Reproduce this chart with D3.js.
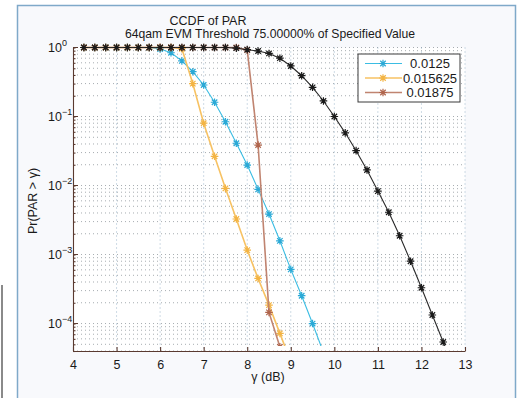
<!DOCTYPE html>
<html>
<head>
<meta charset="utf-8">
<script src="https://cdn.jsdelivr.net/npm/d3@7"></script>
<style>
  body { margin: 0; background: #fff; }
  text { font-family: "Liberation Sans", Arial, sans-serif; fill: #1a1a1a; }
</style>
</head>
<body>
<div id="chart"></div>
<script>
// data
var gammaTicks = [4, 5, 6, 7, 8, 9, 10, 11, 12, 13];
var decadeTicks = [1, 0.1, 0.01, 0.001, 0.0001];
var decadeExps = ["0", "\u22121", "\u22122", "\u22123", "\u22124"];
var legendLabels = ["0.0125", "0.015625", "0.01875"];

var xCyan = [4.25, 4.5, 4.75, 5, 5.25, 5.5, 5.75, 6, 6.25, 6.5, 6.75, 7, 7.25, 7.5, 7.75, 8, 8.25, 8.5, 8.75, 9, 9.25, 9.5, 9.75];
var yCyan = [1, 1, 1, 1, 1, 1, 1, 0.95, 0.84, 0.64, 0.446, 0.286, 0.161, 0.084, 0.041, 0.0198, 0.0088, 0.00386, 0.00158, 0.00061, 0.000253, 0.0001, 0.000038];

var xOrange = [4.25, 4.5, 4.75, 5, 5.25, 5.5, 5.75, 6, 6.25, 6.5, 6.75, 7, 7.25, 7.5, 7.75, 8, 8.25, 8.5, 8.75, 9];
var yOrange = [1, 1, 1, 1, 1, 1, 1, 1, 1, 0.96, 0.30, 0.080, 0.0265, 0.0091, 0.00327, 0.00116, 0.00045, 0.000185, 0.000072, 0.000028];

var xBrown = [4.25, 4.5, 4.75, 5, 5.25, 5.5, 5.75, 6, 6.25, 6.5, 6.75, 7, 7.25, 7.5, 7.75, 8, 8.25, 8.5, 8.75];
var yBrown = [1, 1, 1, 1, 1, 1, 1, 1, 1, 1, 1, 1, 1, 1, 1, 0.92, 0.0386, 0.000145, 0.000046];

var xBlack = [4.25, 4.5, 4.75, 5, 5.25, 5.5, 5.75, 6, 6.25, 6.5, 6.75, 7, 7.25, 7.5, 7.75, 8, 8.25, 8.5, 8.75, 9, 9.25, 9.5, 9.75, 10, 10.25, 10.5, 10.75, 11, 11.25, 11.5, 11.75, 12, 12.25, 12.5, 12.75];
var yBlack = [1, 1, 1, 1, 1, 1, 1, 1, 1, 1, 1, 1, 1, 1, 0.98, 0.93, 0.89, 0.82, 0.70, 0.54, 0.39, 0.265, 0.168, 0.10, 0.058, 0.032, 0.0168, 0.0083, 0.0041, 0.00187, 0.0008, 0.00033, 0.000133, 0.000054, 0.000022];

(function() {
  var W = 518, H = 398;
  var margin = { top: 47.5, left: 73, right: 53, bottom: 47 },
      width = W - margin.left - margin.right,
      height = H - margin.top - margin.bottom;

  var root = d3.select("#chart")
    .append("svg")
    .attr("width", W)
    .attr("height", H);

  // figure frame
  root.append("rect")
    .attr("x", 17.5).attr("y", 5.5)
    .attr("width", 498).attr("height", 400)
    .attr("fill", "#f8f9fc")
    .attr("stroke", "#7fa9c9")
    .attr("stroke-width", 1.5);

  root.append("line")
    .attr("x1", 2).attr("x2", 2)
    .attr("y1", 285).attr("y2", H)
    .attr("stroke", "#8a8a8a")
    .attr("stroke-width", 2);

  var svg = root.append("g")
    .attr("transform", "translate(" + margin.left + "," + margin.top + ")");

  var x = d3.scaleLinear().domain([4, 13]).range([0, width]);
  var y = d3.scaleLog().domain([0.00004, 1]).range([height, 0]);

  svg.append("rect")
    .attr("width", width).attr("height", height)
    .attr("fill", "#ffffff");

  // grid
  svg.selectAll(".hgrid")
    .data(y.ticks())
    .enter().append("line")
    .attr("x1", 0).attr("x2", width)
    .attr("y1", function(d) { return y(d) })
    .attr("y2", function(d) { return y(d) })
    .attr("stroke", "#8f979c")
    .attr("stroke-width", 0.8)
    .attr("stroke-dasharray", "1,3");

  svg.selectAll(".vgrid")
    .data(gammaTicks.slice(1))
    .enter().append("line")
    .attr("x1", function(d) { return x(d) })
    .attr("x2", function(d) { return x(d) })
    .attr("y1", 0).attr("y2", height)
    .attr("stroke", "#86a6bf")
    .attr("stroke-width", 0.8)
    .attr("stroke-dasharray", "1,3");

  // axes
  var xAxis = d3.axisBottom(x).tickValues(gammaTicks).tickSizeInner(-4).tickSizeOuter(0).tickPadding(9);
  var gx = svg.append("g")
    .attr("transform", "translate(0," + height + ")")
    .call(xAxis);
  gx.selectAll("text")
    .attr("font-size", "12.5px")
    .style("font-family", "Liberation Sans, Arial, sans-serif")
    .attr("fill", "#1a1a1a");

  var yAxis = d3.axisLeft(y).tickValues(y.ticks()).tickSizeInner(-2.5).tickSizeOuter(0).tickFormat("");
  var gy = svg.append("g").call(yAxis);

  svg.selectAll(".majtick")
    .data(decadeTicks)
    .enter().append("line")
    .attr("x1", 0).attr("x2", 5)
    .attr("y1", function(d) { return y(d) })
    .attr("y2", function(d) { return y(d) })
    .attr("stroke", "#5a3a30");

  [gx, gy].forEach(function(g) {
    g.selectAll("path,line").attr("stroke", "#5a3a30").attr("stroke-width", 1.1);
  });

  // decade labels 10^k
  var yl = svg.selectAll(".ylab")
    .data(decadeTicks)
    .enter().append("text")
    .attr("x", -25)
    .attr("y", function(d) { return y(d) + 4 })
    .attr("font-size", "12.5px");
  yl.append("tspan").text("10");
  yl.append("tspan")
    .attr("dy", -6)
    .attr("font-size", "9px")
    .text(function(d, i) { return decadeExps[i] });

  // series
  svg.append("clipPath").attr("id", "clip")
    .append("rect").attr("width", width).attr("height", height + 1).attr("y", -6);

  var series = [
    { xs: xCyan, ys: yCyan, color: "#3bbde3", mark: "#2aa9d6", lw: 1.1 },
    { xs: xOrange, ys: yOrange, color: "#f7c263", mark: "#f3b443", lw: 1.6 },
    { xs: xBrown, ys: yBrown, color: "#c08470", mark: "#b0654c", lw: 1.6 },
    { xs: xBlack, ys: yBlack, color: "#2a2a2a", mark: "#1a1a1a", lw: 1.1 }
  ];

  var line = d3.line()
    .x(function(d) { return x(d[0]) })
    .y(function(d) { return y(d[1]) });

  function star(r) {
    var a = r * 0.72;
    return "M0," + (-r) + "V" + r + "M" + (-r) + ",0H" + r +
      "M" + (-a) + "," + (-a) + "L" + a + "," + a +
      "M" + (-a) + "," + a + "L" + a + "," + (-a);
  }

  var plot = svg.append("g").attr("clip-path", "url(#clip)");

  series.forEach(function(s) {
    var pts = s.xs.map(function(v, i) { return [v, s.ys[i]] });
    plot.append("path")
      .datum(pts)
      .attr("d", line)
      .attr("fill", "none")
      .attr("stroke", s.color)
      .attr("stroke-width", s.lw);
    plot.selectAll(null)
      .data(pts)
      .enter().append("path")
      .attr("transform", function(d) { return "translate(" + x(d[0]) + "," + y(d[1]) + ")" })
      .attr("d", star(3.8))
      .attr("fill", "none")
      .attr("stroke", s.mark)
      .attr("stroke-width", 1.2);
  });

  // legend
  var leg = svg.append("g").attr("transform", "translate(" + (358 - margin.left) + "," + (54 - margin.top) + ")");
  leg.append("rect")
    .attr("width", 102).attr("height", 48)
    .attr("fill", "#ffffff")
    .attr("stroke", "#3a3a3a")
    .attr("stroke-width", 1);
  legendLabels.forEach(function(lab, i) {
    var s = series[i], ly = 9.5 + i * 14.5;
    leg.append("line")
      .attr("x1", 7).attr("x2", 44)
      .attr("y1", ly).attr("y2", ly)
      .attr("stroke", s.color)
      .attr("stroke-width", s.lw);
    leg.append("path")
      .attr("transform", "translate(25," + ly + ")")
      .attr("d", star(3.8))
      .attr("fill", "none")
      .attr("stroke", s.mark)
      .attr("stroke-width", 1.2);
    leg.append("text")
      .text(lab)
      .attr("x", 72)
      .attr("y", ly + 4.5)
      .attr("text-anchor", "middle")
      .attr("font-size", "13px");
  });

  // titles and labels
  root.append("text")
    .text("CCDF of PAR")
    .attr("x", 208).attr("y", 25)
    .attr("text-anchor", "middle")
    .attr("font-size", "12.5px");

  root.append("text")
    .text("64qam EVM Threshold 75.00000% of Specified Value")
    .attr("x", 270).attr("y", 37.5)
    .attr("text-anchor", "middle")
    .attr("font-size", "12.2px");

  root.append("text")
    .text("\u03b3 (dB)")
    .attr("x", 268).attr("y", 381)
    .attr("text-anchor", "middle")
    .attr("font-size", "12.5px");

  root.append("text")
    .text("Pr(PAR > \u03b3)")
    .attr("transform", "translate(37,201) rotate(-90)")
    .attr("text-anchor", "middle")
    .attr("font-size", "12.5px");
})();
</script>
</body>
</html>
